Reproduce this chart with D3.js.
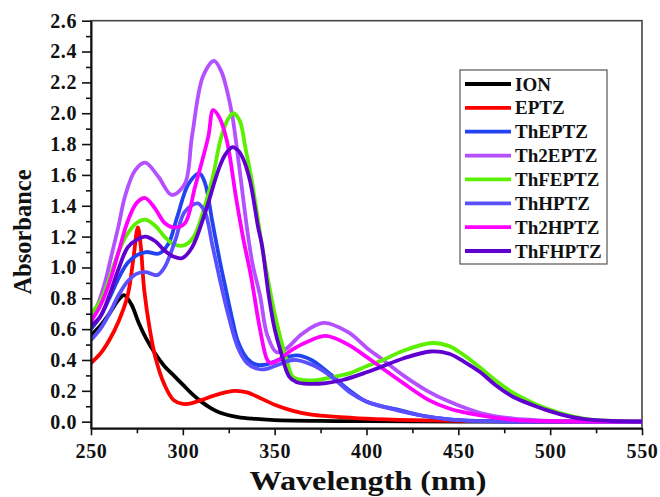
<!DOCTYPE html>
<html>
<head>
<meta charset="utf-8">
<script src="https://cdn.jsdelivr.net/npm/d3@7"></script>
<style>
  body { margin: 0; background: #fff; }
  text { font-family: "Liberation Serif", "Times New Roman", serif; font-weight: bold; }
</style>
</head>
<body>
<svg id="chart" width="660" height="497"></svg>
<script>
// -------------------- DATA -------------------- //
const seriesNames = ["ION", "EPTZ", "ThEPTZ", "Th2EPTZ", "ThFEPTZ", "ThHPTZ", "Th2HPTZ", "ThFHPTZ"];
const seriesColors = ["#000000", "#ff0000", "#2244f0", "#b450ff", "#5cf000", "#5a50ff", "#ff00ff", "#6000d0"];

// [wavelength nm, absorbance]
const ion = [[250,0.56],[255,0.62],[260,0.70],[265,0.79],[268,0.82],[272,0.76],[276,0.64],[280,0.54],[285,0.44],[290,0.36],[295,0.30],[300,0.24],[305,0.18],[310,0.13],[315,0.09],[320,0.06],[330,0.03],[340,0.018],[350,0.01],[375,0.005],[400,0.003],[450,0.001],[550,0]];
const eptz = [[250,0.38],[255,0.44],[260,0.53],[265,0.65],[270,0.82],[273,1.05],[275.5,1.26],[277,1.15],[279,0.85],[282,0.60],[285,0.42],[290,0.24],[295,0.14],[300,0.115],[305,0.12],[310,0.14],[320,0.18],[328,0.20],[335,0.19],[340,0.165],[350,0.11],[360,0.07],[370,0.045],[380,0.035],[400,0.02],[425,0.01],[450,0.005],[500,0.001],[550,0]];
const thEptz = [[250,0.60],[255,0.68],[260,0.80],[265,0.93],[270,1.03],[275,1.08],[280,1.10],[287,1.09],[292,1.15],[297,1.33],[303,1.54],[309,1.61],[312,1.55],[316,1.30],[320,1.05],[323,0.88],[327,0.66],[330,0.52],[335,0.41],[340,0.37],[345,0.37],[352,0.40],[362,0.43],[370,0.40],[380,0.31],[391,0.20],[400,0.13],[418,0.075],[430,0.04],[445,0.015],[460,0.005],[480,0.001],[550,0]];
const th2Eptz = [[250,0.67],[254,0.77],[258,0.92],[261,1.07],[265,1.27],[268.5,1.46],[274,1.63],[279.5,1.68],[286.6,1.59],[294,1.47],[301,1.54],[305,1.85],[311,2.24],[317,2.34],[321,2.27],[324,2.15],[327,1.98],[330,1.72],[335,1.25],[338,1.02],[342,0.82],[346,0.56],[351,0.45],[356,0.47],[365,0.57],[376.5,0.64],[390,0.58],[400,0.48],[409,0.40],[420,0.30],[433,0.20],[445,0.13],[462,0.056],[480,0.02],[489,0.013],[500,0.005],[550,0]];
const thFEptz = [[250,0.70],[255,0.78],[260,0.93],[265,1.10],[270,1.22],[275,1.29],[279.5,1.31],[285,1.27],[290,1.20],[295,1.15],[301,1.145],[306,1.20],[311,1.36],[316,1.57],[321,1.85],[325,1.97],[327.5,2.00],[331,1.95],[334,1.78],[337,1.60],[340,1.38],[343,1.15],[347,0.88],[350,0.70],[353,0.55],[357,0.38],[360,0.29],[366,0.27],[373,0.27],[380,0.285],[391,0.315],[400,0.36],[409,0.40],[420,0.46],[436,0.51],[445,0.49],[452,0.44],[462,0.35],[470,0.27],[480,0.186],[490,0.125],[498,0.085],[512,0.035],[525,0.01],[540,0.002],[550,0]];
const thHptz = [[250,0.53],[255,0.60],[260,0.70],[265,0.82],[270,0.91],[275,0.96],[280,0.97],[286,0.95],[290,1.00],[296,1.18],[301,1.36],[308,1.415],[312,1.36],[316,1.15],[320,0.93],[325,0.68],[330,0.48],[335,0.38],[340,0.345],[345,0.34],[352,0.37],[360,0.40],[370,0.37],[380,0.30],[391,0.19],[400,0.13],[418,0.07],[430,0.04],[445,0.015],[460,0.005],[480,0.001],[550,0]];
const th2Hptz = [[250,0.65],[255,0.75],[260,0.90],[265,1.10],[270,1.30],[275,1.42],[279.5,1.45],[285,1.38],[290,1.29],[295,1.26],[301,1.285],[306.6,1.52],[313.9,1.85],[316.5,2.02],[320,1.97],[324,1.82],[329,1.45],[333,1.18],[337,0.95],[342,0.60],[346,0.40],[348,0.38],[352,0.40],[360,0.47],[370,0.53],[378,0.556],[390,0.50],[400,0.42],[407,0.36],[420,0.25],[434,0.14],[445,0.085],[462,0.04],[480,0.012],[500,0.003],[550,0]];
const thFHptz = [[250,0.62],[255,0.68],[260,0.82],[265,0.99],[270,1.13],[275,1.18],[279.5,1.20],[285,1.17],[290,1.11],[295,1.07],[299.5,1.06],[305,1.13],[312,1.35],[319.3,1.63],[323,1.73],[327,1.78],[330,1.76],[333,1.70],[336.6,1.56],[341,1.26],[343,1.15],[347,0.80],[350,0.60],[353,0.466],[358,0.29],[362,0.255],[369,0.245],[378,0.25],[387,0.27],[400,0.32],[409,0.36],[420,0.41],[435,0.455],[445,0.44],[453,0.39],[462,0.32],[470,0.24],[480,0.16],[490,0.11],[498,0.075],[512,0.03],[525,0.01],[540,0.002],[550,0]];

const allSeries = [ion, eptz, thEptz, th2Eptz, thFEptz, thHptz, th2Hptz, thFHptz];

const xTicks = [250, 300, 350, 400, 450, 500, 550];
const yTicks = d3.range(0, 14).map(i => i * 0.2);

// -------------------- SETUP -------------------- //
const svg = d3.select("#chart");
const plotLeft = 91, plotRight = 642, plotTop = 20.7, plotBottom = 428.3;

const x = d3.scaleLinear().domain([250, 550]).range([plotLeft, plotRight]);
const y = d3.scaleLinear().domain([-0.043, 2.6]).range([plotBottom, plotTop]);

svg.append("clipPath").attr("id", "plot-clip")
    .append("rect")
    .attr("x", plotLeft).attr("y", plotTop)
    .attr("width", plotRight - plotLeft).attr("height", plotBottom - plotTop);

// frame (top/right)
svg.append("rect")
    .attr("x", plotLeft).attr("y", plotTop)
    .attr("width", plotRight - plotLeft).attr("height", plotBottom - plotTop)
    .attr("fill", "none")
    .attr("stroke", "#444")
    .attr("stroke-width", 1.6);

// -------------------- CURVES -------------------- //
const line = d3.line()
    .x(d => x(d[0]))
    .y(d => y(d[1]))
    .curve(d3.curveCatmullRom.alpha(0.5));

svg.append("g").attr("clip-path", "url(#plot-clip)")
    .selectAll("path")
    .data(allSeries)
    .join("path")
    .attr("d", line)
    .attr("fill", "none")
    .attr("stroke", (d, i) => seriesColors[i])
    .attr("stroke-width", 3.8)
    .attr("stroke-linejoin", "round");

// -------------------- AXES -------------------- //
// minor ticks
svg.append("g")
    .attr("transform", `translate(0,${plotBottom})`)
    .call(d3.axisBottom(x).tickValues(d3.range(275, 550, 50)).tickSize(5).tickFormat(""))
    .call(g => g.select(".domain").remove());
svg.append("g")
    .attr("transform", `translate(${plotLeft},0)`)
    .call(d3.axisLeft(y).tickValues(d3.range(0, 13).map(i => 0.1 + i * 0.2)).tickSize(5).tickFormat(""))
    .call(g => g.select(".domain").remove());

const xAxis = svg.append("g")
    .attr("transform", `translate(0,${plotBottom})`)
    .call(d3.axisBottom(x).tickValues(xTicks).tickSize(7).tickSizeOuter(0).tickPadding(9).tickFormat(d3.format("d")));
const yAxis = svg.append("g")
    .attr("transform", `translate(${plotLeft},0)`)
    .call(d3.axisLeft(y).tickValues(yTicks).tickSize(9).tickSizeOuter(0).tickPadding(5).tickFormat(d3.format(".1f")));

svg.selectAll(".tick line").attr("stroke", "#111").attr("stroke-width", 1.6);
[xAxis, yAxis].forEach(g => {
    g.select(".domain").attr("stroke", "#111").attr("stroke-width", 2);
    g.selectAll("text")
        .attr("fill", "#111")
        .style("font-family", "'Liberation Serif', serif")
        .style("font-weight", "bold")
        .style("font-size", "20px")
        .style("letter-spacing", "0.6px");
});

// axis titles
svg.append("text")
    .attr("transform", "translate(31,232) rotate(-90)")
    .attr("text-anchor", "middle")
    .attr("fill", "#111")
    .style("font-size", "24.5px")
    .text("Absorbance");

svg.append("text")
    .attr("x", 368).attr("y", 490)
    .attr("text-anchor", "middle")
    .attr("textLength", 237)
    .attr("lengthAdjust", "spacingAndGlyphs")
    .attr("fill", "#111")
    .style("font-size", "27px")
    .text("Wavelength (nm)");

// -------------------- LEGEND -------------------- //
const legend = svg.append("g");
legend.append("rect")
    .attr("x", 460).attr("y", 70)
    .attr("width", 147).attr("height", 194)
    .attr("fill", "#fff")
    .attr("stroke", "#555")
    .attr("stroke-width", 1.2);

const rowY = d3.scalePoint().domain(seriesNames).range([84, 251]);
const rows = legend.selectAll("g.row")
    .data(seriesNames)
    .join("g")
    .attr("class", "row")
    .attr("transform", d => `translate(0,${rowY(d)})`);
rows.append("line")
    .attr("x1", 465).attr("x2", 511)
    .attr("stroke", (d, i) => seriesColors[i])
    .attr("stroke-width", 3.8);
rows.append("text")
    .attr("x", 515).attr("y", 6.5)
    .attr("fill", "#111")
    .style("font-size", "19px")
    .text(d => d);
</script>
</body>
</html>
